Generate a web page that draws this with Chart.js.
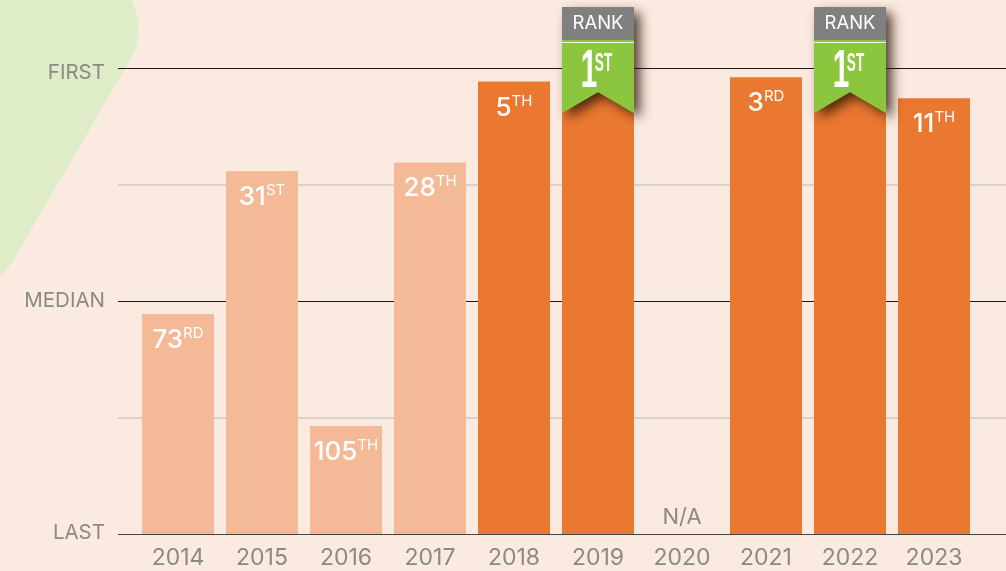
<!DOCTYPE html>
<html><head><meta charset="utf-8">
<style>html,body{margin:0;padding:0;background:#fbeae0;overflow:hidden}canvas{display:block}</style>
<script src="https://cdn.jsdelivr.net/npm/chart.js@4"></script></head>
<body><canvas id="c" width="1006" height="571"></canvas>
<script>
const years=['2014','2015','2016','2017','2018','2019','2020','2021','2022','2023'];
const heightPct=[47.3,78,23.2,79.9,97.3,100,null,98.2,100,93.7];
const rankNum=['73','31','105','28','5','1','','3','1','11'];
const rankSuffix=['RD','ST','TH','TH','TH','ST','','RD','ST','TH'];
const barColors=['#f4b997','#f4b997','#f4b997','#f4b997','#ea7830','#ea7830','#ea7830','#ea7830','#ea7830','#ea7830'];
const ribbonYears=['2019','2022'];
const yLabels={0:'LAST',50:'MEDIAN',100:'FIRST'};
const yLabelNudge={0:-1,50:-1,100:4};
const FONT='Inter, "Open Sans", sans-serif';

const decor={id:'decor',
 beforeDraw(ch){const c=ch.ctx;c.save();c.fillStyle='#fbeae0';c.fillRect(0,0,ch.width,ch.height);
  c.fillStyle='#deedc8';c.beginPath();c.moveTo(0,0);c.lineTo(131.5,0);
  c.bezierCurveTo(140,16,141,38,133,55);c.lineTo(15,257);c.quadraticCurveTo(9,268,0,277);c.closePath();c.fill();c.restore();},
 beforeDatasetsDraw(ch){const c=ch.ctx,y=ch.scales.y;c.save();
  [25,75].forEach(v=>{const p=Math.round(y.getPixelForValue(v));c.fillStyle='#dcd3cc';c.fillRect(118,p-1,888,2);});
  [100,50].forEach(v=>{const p=Math.round(y.getPixelForValue(v));c.fillStyle='#1a1a1a';c.fillRect(118,p-1,888,1);});
  const p=Math.round(y.getPixelForValue(0));c.fillStyle='#444';c.fillRect(118,p,888,1);
  c.fillStyle='#8a8a85';c.font='20.5px '+FONT;c.textAlign='right';c.textBaseline='middle';
  Object.keys(yLabels).forEach(v=>{c.fillText(yLabels[v],105,y.getPixelForValue(+v)+yLabelNudge[v]);});
  c.restore();},
 afterDatasetsDraw(ch){const c=ch.ctx,x=ch.scales.x,y=ch.scales.y,meta=ch.getDatasetMeta(0);c.save();
  c.textBaseline='alphabetic';
  years.forEach((yr,i)=>{const cx=x.getPixelForValue(i);
   if(heightPct[i]===null){c.fillStyle='#8a8a85';c.font='22px '+FONT;c.textAlign='center';c.fillText('N/A',cx,524);return;}
   if(ribbonYears.includes(yr)){
    const l=cx-36,r=cx+36;
    c.save();c.shadowColor='rgba(40,20,5,0.8)';c.shadowBlur=12;c.shadowOffsetX=6;c.shadowOffsetY=5;
    c.fillStyle='#8cc63f';c.beginPath();c.moveTo(l,8);c.lineTo(r,8);c.lineTo(r,113);c.lineTo(cx,92);c.lineTo(l,113);c.closePath();c.fill();c.restore();
    c.fillStyle='#8cc63f';c.beginPath();c.moveTo(l,40);c.lineTo(r,40);c.lineTo(r,113);c.lineTo(cx,92);c.lineTo(l,113);c.closePath();c.fill();
    c.fillStyle='#808080';c.fillRect(l,7,72,33);
    c.fillStyle='#f3f6e8';c.fillRect(l,42,72,1);
    c.fillStyle='#fff';c.font='18.5px '+FONT;c.textAlign='center';c.fillText('RANK',cx,29);
    c.save();c.translate(cx-9,87);c.scale(0.55,1);c.font='bold 54px "Liberation Sans"';c.textAlign='center';c.fillText(rankNum[i],0,0);c.restore();
    c.save();c.translate(cx+5.5,71);c.scale(0.52,1);c.font='bold 26px "Liberation Sans"';c.textAlign='center';c.fillText(rankSuffix[i],0,0);c.restore();
    return;}
   const top=meta.data[i].y;
   c.fillStyle='#fff';c.textAlign='left';
   const big='500 26px '+FONT,small='15px '+FONT;
   c.font=big;const n=c.measureText(rankNum[i]).width;
   c.font=small;const s=c.measureText(rankSuffix[i]).width;
   const st=cx-(n+s)/2;
   c.font=big;c.fillText(rankNum[i],st,top+34);
   c.font=small;c.fillText(rankSuffix[i],st+n,top+24);
  });
  c.restore();}
};
new Chart(document.getElementById('c'),{type:'bar',
 data:{labels:years,datasets:[{data:heightPct,backgroundColor:barColors,borderWidth:0,categoryPercentage:1,barPercentage:72/84}]},
 options:{responsive:false,animation:false,
  layout:{padding:{top:69,right:30,left:0,bottom:2}},
  plugins:{legend:{display:false},tooltip:{enabled:false}},
  scales:{
   x:{grid:{display:false},border:{display:false},
      afterFit(s){s.height=35;},
      ticks:{color:'#8a8a85',font:{family:FONT,size:23},padding:2,maxRotation:0}},
   y:{min:0,max:100,grid:{display:false},border:{display:false},
      afterFit(s){s.width=136;},
      afterBuildTicks(s){s.ticks=[0,25,50,75,100].map(v=>({value:v}));},
      ticks:{display:true,color:'rgba(0,0,0,0)',font:{family:FONT,size:20.5},padding:23,
       callback:v=>yLabels[v]||''}}
  }},
 plugins:[decor]});
</script></body></html>
